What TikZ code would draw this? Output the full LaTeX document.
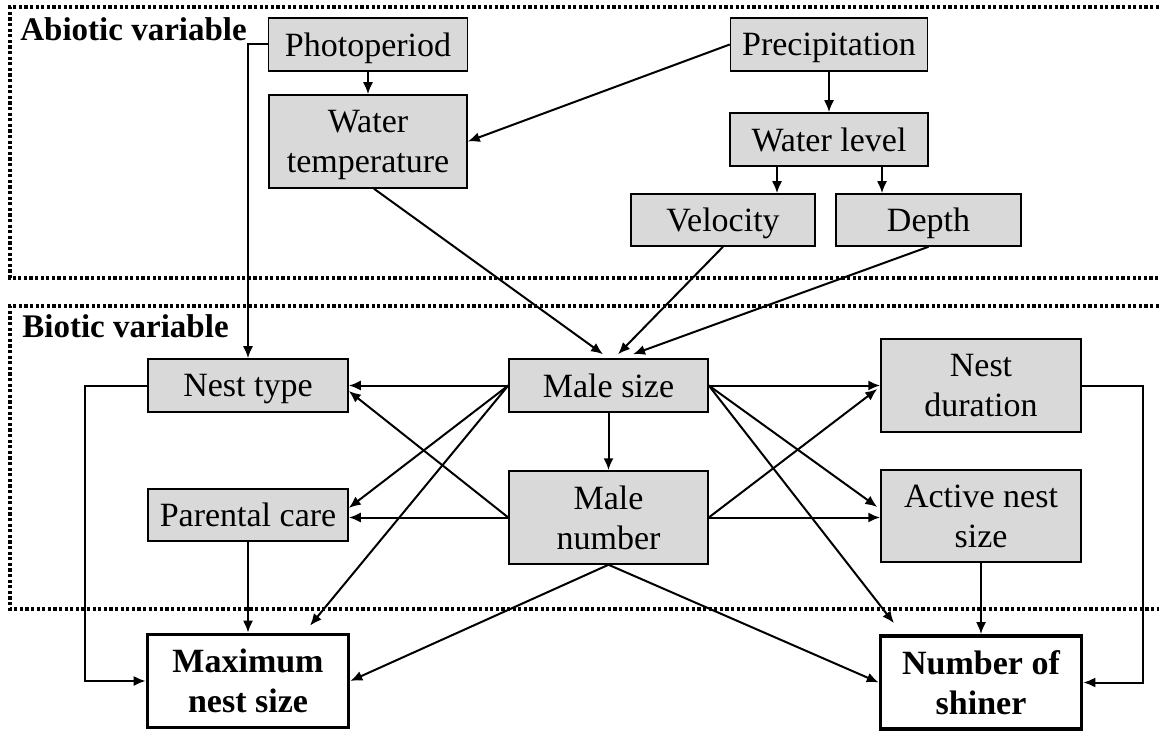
\documentclass[tikz,border=0pt]{standalone}
\usepackage{fontspec}
\setmainfont{Liberation Serif}
\usepackage{tikz}
\usetikzlibrary{arrows.meta,positioning,calc}
\definecolor{boxfill}{RGB}{217,217,217}
\tikzset{
  varbox/.style={rectangle,draw=black,line width=0.75pt,fill=boxfill,inner sep=0pt,
    align=center,text depth=0pt,font=\fontsize{17}{20}\selectfont},
  outbox/.style={rectangle,draw=black,line width=1.8pt,fill=white,inner sep=0pt,
    align=center,text depth=0pt,font=\fontsize{17}{20}\selectfont\bfseries},
  grp/.style={line width=1.6pt,dash pattern=on 1.6pt off 1.2pt},
  grplabel/.style={anchor=base west,inner sep=0pt,font=\fontsize{16.5}{20}\selectfont\bfseries},
  arr/.style={-{Latex[length=6pt,width=5pt]},line width=1pt},
}
\begin{document}
\begin{tikzpicture}[x=0.5pt,y=-0.5pt]
\useasboundingbox (0,0) rectangle (1159,731);

% --- group frames ---
\draw[grp] (1170,7) -- (10,7) -- (10,278) -- (1170,278);
\draw[grp] (1170,306) -- (10,306) -- (10,609) -- (1170,609);
\node[grplabel] (abio) at (20,41) {Abiotic variable};
\node[grplabel] (bio) at (22,338) {Biotic variable};

% --- abiotic variables ---
\node[varbox,minimum width=99.5pt,minimum height=26.5pt] (pp) at (368,44.5) {Photoperiod};
\node[varbox,minimum width=99pt,minimum height=46.5pt] (wt) at (368,141.5) {Water\\temperature};
\node[varbox,minimum width=98.5pt,minimum height=26.5pt] (pr) at (829,44.5) {Precipitation};
\node[varbox,minimum width=99pt,minimum height=26.5pt] (wl) at (829,139.5) {Water level};
\node[varbox,minimum width=92pt,minimum height=26pt] (vel) at (723,220) {Velocity};
\node[varbox,minimum width=92.5pt,minimum height=26pt] (dep) at (928.5,220) {Depth};

% --- biotic variables ---
\node[varbox,minimum width=100pt,minimum height=26.5pt] (nt) at (248,385.5) {Nest type};
\node[varbox,minimum width=100pt,minimum height=26pt] (pc) at (248,515) {Parental care};
\node[varbox,minimum width=99.5pt,minimum height=26.5pt] (ms) at (608.5,385.5) {Male size};
\node[varbox,minimum width=99.5pt,minimum height=46.5pt] (mn) at (608.5,517.5) {Male\\number};
\node[varbox,minimum width=100pt,minimum height=46.5pt] (nd) at (981,385.5) {Nest\\duration};
\node[varbox,minimum width=100pt,minimum height=46pt] (an) at (981,516) {Active nest\\size};

% --- responses ---
\node[outbox,minimum width=100.5pt,minimum height=46.5pt] (mx) at (248,681) {Maximum\\nest size};
\node[outbox,minimum width=100.5pt,minimum height=46.5pt] (ns) at (981,682.5) {Number of\\shiner};

% abiotic links
\draw[arr] (pp) -- (wt);
\draw[arr] (pp.west) -| (nt.north);
\draw[arr] (pr.west) -- (wt.east);
\draw[arr] (pr) -- (wl);
\draw[arr] ([xshift=-26pt]wl.south) -- ([xshift=-26pt]wl.south |- vel.north);
\draw[arr] ([xshift=26.5pt]wl.south) -- ([xshift=26.5pt]wl.south |- dep.north);
\draw[arr] ([xshift=3pt]wt.south) -- ([xshift=-2.75pt,yshift=2pt]ms.north);
\draw[arr] (vel.south) -- ([xshift=4.75pt,yshift=2pt]ms.north);
\draw[arr] (dep.south) -- ([xshift=12.25pt,yshift=2pt]ms.north);

% male size / male number
\draw[arr] (ms) -- (mn);
\draw[arr] (ms.west) -- (nt.east);
\draw[arr] (ms.west) -- ([yshift=3.5pt]pc.east);
\draw[arr] (ms.west) -- ([xshift=31pt,yshift=3.5pt]mx.north);
\draw[arr] (mn.west) -- (mn.west -| pc.east);
\draw[arr] (mn.west) -- ([yshift=-2.75pt]nt.east);
\draw[arr] (mn.south) -- (mx.east);
\draw[arr] (mn.south) -- (ns.west);
\draw[arr] (ms.east) -- (nd.west);
\draw[arr] (ms.east) -- ([xshift=-1.5pt,yshift=4.5pt]an.west);
\draw[arr] (ms.east) -- ([xshift=-43.5pt,yshift=5.5pt]ns.north);
\draw[arr] (mn.east) -- ([xshift=-1.5pt,yshift=-1.75pt]nd.west);
\draw[arr] (mn.east) -- (mn.east -| an.west);

% into responses
\draw[arr] (nt.west) -- ++(-31pt,0) |- (mx.west);
\draw[arr] (pc) -- (mx);
\draw[arr] (an) -- (ns);
\draw[arr] (nd.east) -- ++(30.5pt,0) |- (ns.east);
\end{tikzpicture}
\end{document}
